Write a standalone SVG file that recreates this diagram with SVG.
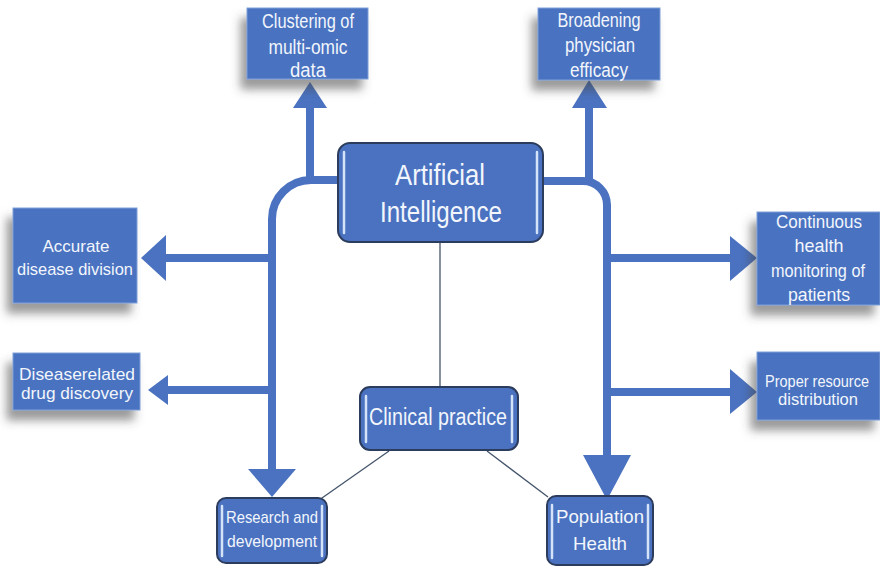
<svg xmlns="http://www.w3.org/2000/svg" width="880" height="567" viewBox="0 0 880 567">
<defs>
<filter id="shadow" x="-30%" y="-30%" width="160%" height="170%">
<feDropShadow dx="-6" dy="10" stdDeviation="5" flood-color="#4a4a4a" flood-opacity="0.55"/>
</filter>
<style>
.sq{fill:#4a72c0;stroke:#7f9fd8;stroke-width:1;filter:url(#shadow)}
.rd{fill:#4a72c0;stroke:#2b3c5c;stroke-width:2}
.hl{stroke:#d4e3f7;stroke-width:2.5;stroke-linecap:round;fill:none}
.t{font-family:"Liberation Sans",Arial,sans-serif;fill:#f2f6fc;text-anchor:middle}
.trunk{fill:none;stroke:#4a72c0;stroke-width:8}
.head{fill:#4a72c0}
.thin{stroke:#45546b;stroke-width:1.3;fill:none}
</style>
</defs>
<rect width="880" height="567" fill="#ffffff"/>
<g id="connectors">
<path class="thin" d="M440,242 V387"/>
<path class="thin" d="M389,451 L322,498"/>
<path class="thin" d="M487,451 L548,497"/>
<path class="trunk" d="M340,180 H311 A39,39 0 0 0 272,219 V471"/>
<path class="trunk" d="M310,180 V106"/>
<polygon class="head" points="293,108 327,108 310,82"/>
<path class="trunk" d="M272,258 H163"/>
<polygon class="head" points="166,235 166,281 141,258"/>
<path class="trunk" d="M272,390 H165"/>
<polygon class="head" points="168,375 168,405 148,390"/>
<polygon class="head" points="248,469 296,469 272,497"/>
<path class="trunk" d="M541,181 H583 A24,24 0 0 1 607,205 V457"/>
<path class="trunk" d="M589,181 V106"/>
<polygon class="head" points="572,108 607,108 589,80"/>
<path class="trunk" d="M607,258 H732"/>
<polygon class="head" points="730,236 730,281 757,258"/>
<path class="trunk" d="M607,392 H732"/>
<polygon class="head" points="730,369 730,414 757,392"/>
<polygon class="head" points="583,455 631,455 607,500"/>
</g>
<g id="clustering">
<rect class="sq" x="247" y="8" width="121" height="71"/>
<text class="t" font-size="20" x="308" y="28" textLength="92" lengthAdjust="spacingAndGlyphs">Clustering of</text>
<text class="t" font-size="20" x="308" y="54" textLength="79" lengthAdjust="spacingAndGlyphs">multi-omic</text>
<text class="t" font-size="20" x="308" y="77" textLength="36" lengthAdjust="spacingAndGlyphs">data</text>
</g>
<g id="broadening">
<rect class="sq" x="538" y="8" width="122" height="72"/>
<text class="t" font-size="20" x="599" y="27" textLength="83" lengthAdjust="spacingAndGlyphs">Broadening</text>
<text class="t" font-size="20" x="600" y="52" textLength="70" lengthAdjust="spacingAndGlyphs">physician</text>
<text class="t" font-size="20" x="599" y="77" textLength="58" lengthAdjust="spacingAndGlyphs">efficacy</text>
</g>
<g id="accurate">
<rect class="sq" x="13" y="208" width="124" height="95"/>
<text class="t" font-size="17" x="76" y="252" textLength="67" lengthAdjust="spacingAndGlyphs">Accurate</text>
<text class="t" font-size="17" x="75" y="275" textLength="116" lengthAdjust="spacingAndGlyphs">disease division</text>
</g>
<g id="disease">
<rect class="sq" x="13" y="353" width="127" height="57"/>
<text class="t" font-size="17" x="77" y="380" textLength="116" lengthAdjust="spacingAndGlyphs">Diseaserelated</text>
<text class="t" font-size="17" x="77" y="399" textLength="112" lengthAdjust="spacingAndGlyphs">drug discovery</text>
</g>
<g id="continuous">
<rect class="sq" x="757" y="212" width="123" height="93"/>
<text class="t" font-size="19" x="819" y="228" textLength="86" lengthAdjust="spacingAndGlyphs">Continuous</text>
<text class="t" font-size="19" x="819" y="252" textLength="49" lengthAdjust="spacingAndGlyphs">health</text>
<text class="t" font-size="19" x="818" y="277" textLength="94" lengthAdjust="spacingAndGlyphs">monitoring of</text>
<text class="t" font-size="19" x="819" y="301" textLength="62" lengthAdjust="spacingAndGlyphs">patients</text>
</g>
<g id="proper">
<rect class="sq" x="757" y="352" width="123" height="68"/>
<text class="t" font-size="16" x="817" y="387" textLength="104" lengthAdjust="spacingAndGlyphs">Proper resource</text>
<text class="t" font-size="16" x="818" y="405" textLength="80" lengthAdjust="spacingAndGlyphs">distribution</text>
</g>
<g id="ai">
<rect class="rd" x="338" y="143" width="205" height="99" rx="12"/>
<path class="hl" d="M344,152 V233 M537,152 V233"/>
<text class="t" font-size="30" x="440" y="185" textLength="90" lengthAdjust="spacingAndGlyphs">Artificial</text>
<text class="t" font-size="30" x="441" y="222" textLength="122" lengthAdjust="spacingAndGlyphs">Intelligence</text>
</g>
<g id="clinical">
<rect class="rd" x="360" y="387" width="158" height="63" rx="10"/>
<path class="hl" d="M366,396 V442 M512,396 V442"/>
<text class="t" font-size="23" x="438" y="425" textLength="138" lengthAdjust="spacingAndGlyphs">Clinical practice</text>
</g>
<g id="research">
<rect class="rd" x="217" y="498" width="110" height="65" rx="9"/>
<path class="hl" d="M222,506 V556 M322,506 V556"/>
<text class="t" font-size="17" x="272" y="523" textLength="92" lengthAdjust="spacingAndGlyphs">Research and</text>
<text class="t" font-size="17" x="272" y="547" textLength="90" lengthAdjust="spacingAndGlyphs">development</text>
</g>
<g id="population">
<rect class="rd" x="547" y="496" width="106" height="69" rx="9"/>
<path class="hl" d="M552,505 V558 M648,505 V558"/>
<text class="t" font-size="19" x="600" y="523" textLength="88" lengthAdjust="spacingAndGlyphs">Population</text>
<text class="t" font-size="19" x="600" y="550" textLength="54" lengthAdjust="spacingAndGlyphs">Health</text>
</g>
</svg>
